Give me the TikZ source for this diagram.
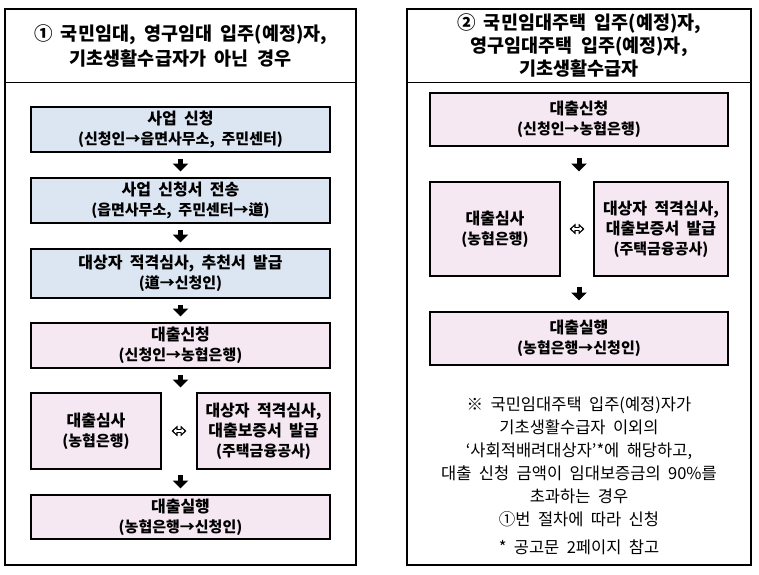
\documentclass[tikz,border=0pt]{standalone}
\usepackage{fontspec}
\setmainfont{Noto Sans CJK KR}[WordSpace=2]
\usetikzlibrary{arrows.meta}

\definecolor{boxblue}{RGB}{220,230,242}
\definecolor{boxpink}{RGB}{245,232,242}

\tikzset{
  panel/.style={draw, line width=1.6pt},
  stepbox/.style={draw, line width=2pt, align=center, inner sep=0pt, font=\bfseries\fontsize{16}{20}\selectfont},
  bluebox/.style={stepbox, fill=boxblue},
  pinkbox/.style={stepbox, fill=boxpink},
  nextarrow/.style={line width=5pt, -{Triangle[width=15pt,length=8pt]}, shorten <=#1, shorten >=#1},
  nextarrow/.default=5.5pt,
  bothout/.style={line width=4.6pt, {Triangle[width=10.5pt,length=6pt]}-{Triangle[width=10.5pt,length=6pt]}, shorten <=#1, shorten >=#1},
  bothout/.default=9.5pt,
  bothin/.style={white, line width=1.8pt, {Triangle[width=5pt,length=2.9pt]}-{Triangle[width=5pt,length=2.9pt]}, shorten <=#1+2pt, shorten >=#1+2pt},
  bothin/.default=9.5pt
}
\newcommand{\subline}[1]{{\fontsize{15}{20}\selectfont #1}}

\begin{document}
\begin{tikzpicture}[x=1pt, y=-1pt]
    \useasboundingbox (0,0) rectangle (759,574);
    % left panel
    \draw[panel] (5,9) rectangle (356,565);
    \draw[line width=0.8pt] (5,82) -- (356,82);
    \node[align=center, font=\bfseries\fontsize{18.5}{25}\selectfont] (lefttitle) at (180.5,45.5) {① 국민임대, 영구임대 입주(예정)자,\\기초생활수급자가 아닌 경우};
    \node[bluebox, minimum width=299pt, minimum height=45pt] (apply) at (180.5,129.5) {사업 신청\\\subline{(신청인→읍면사무소, 주민센터)}};
    \node[bluebox, minimum width=299pt, minimum height=45pt] (send) at (180.5,200.5) {사업 신청서 전송\\\subline{(읍면사무소, 주민센터→道)}};
    \node[bluebox, minimum width=299pt, minimum height=49pt] (screen) at (180.5,273.5) {대상자 적격심사, 추천서 발급\\\subline{(道→신청인)}};
    \node[pinkbox, minimum width=299pt, minimum height=45pt] (loanreq) at (180.5,345.5) {대출신청\\\subline{(신청인→농협은행)}};
    \node[pinkbox, minimum width=130pt, minimum height=76pt] (loancheck) at (96,431) {대출심사\\\subline{(농협은행)}};
    \node[pinkbox, minimum width=133pt, minimum height=76pt] (guarantee) at (263.5,431) {대상자 적격심사,\\대출보증서 발급\\\subline{(주택금융공사)}};
    \node[pinkbox, minimum width=299pt, minimum height=44pt] (loanpay) at (180.5,517) {대출실행\\\subline{(농협은행→신청인)}};
    \coordinate (lsplit) at (180.5,393);
    \coordinate (ljoin) at (180.5,469);
    \draw[nextarrow] (apply) -- (send);
    \draw[nextarrow] (send) -- (screen);
    \draw[nextarrow] (screen) -- (loanreq);
    \draw[nextarrow] (loanreq) -- (lsplit);
    \draw[bothout] (loancheck) -- (guarantee);
    \draw[bothin] (loancheck) -- (guarantee);
    \draw[nextarrow] (ljoin) -- (loanpay);
    % right panel
    \draw[panel] (407,9) rectangle (751,565);
    \draw[line width=0.8pt] (407,82) -- (751,82);
    \node[align=center, font=\bfseries\fontsize{18.5}{23}\selectfont] (righttitle) at (579,45) {② 국민임대주택 입주(예정)자,\\영구임대주택 입주(예정)자,\\기초생활수급자};
    \node[pinkbox, minimum width=298pt, minimum height=53pt] (rloanreq) at (579,119.5) {대출신청\\\subline{(신청인→농협은행)}};
    \node[pinkbox, minimum width=130pt, minimum height=94pt] (rloancheck) at (495,229) {대출심사\\\subline{(농협은행)}};
    \node[pinkbox, minimum width=134pt, minimum height=94pt] (rguarantee) at (661,229) {대상자 적격심사,\\대출보증서 발급\\\subline{(주택금융공사)}};
    \node[pinkbox, minimum width=298pt, minimum height=53pt] (rloanpay) at (579,338.5) {대출실행\\\subline{(농협은행→신청인)}};
    \coordinate (rsplit) at (579,182);
    \coordinate (rjoin) at (579,276);
    \draw[nextarrow=10.5pt] (rloanreq) -- (rsplit);
    \draw[bothout=8.5pt] (rloancheck) -- (rguarantee);
    \draw[bothin=8.5pt] (rloancheck) -- (rguarantee);
    \draw[nextarrow=10.5pt] (rjoin) -- (rloanpay);
    \node[align=center, font=\fontsize{16.5}{23}\selectfont] (note) at (579,462) {※ 국민임대주택 입주(예정)자가\\기초생활수급자 이외의\\‘사회적배려대상자’*에 해당하고,\\대출 신청 금액이 임대보증금의 90\%를\\초과하는 경우\\①번 절차에 따라 신청};
    \node[font=\fontsize{16.5}{20}\selectfont] (pageref) at (579,547) {* 공고문 2페이지 참고};
\end{tikzpicture}
\end{document}
